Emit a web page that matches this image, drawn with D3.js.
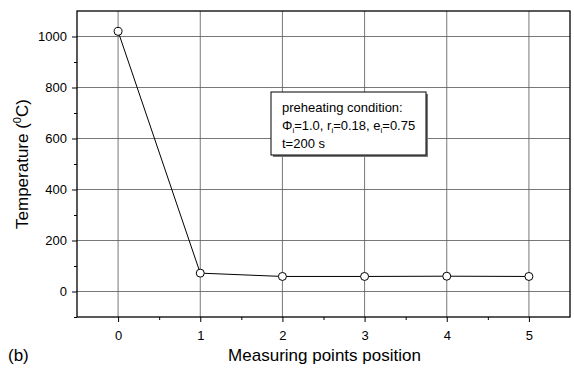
<!DOCTYPE html>
<html>
<head>
<meta charset="utf-8">
<script src="https://cdn.jsdelivr.net/npm/d3@7"></script>
<style>
  html, body { margin: 0; padding: 0; background: #fff; }
  svg { display: block; font-family: Arial, "Liberation Sans", sans-serif; }
</style>
</head>
<body>
<svg id="chart" width="574" height="370"></svg>
<script>
// Measured temperature at each measuring point
const positions = [0, 1, 2, 3, 4, 5];
const temperatures = [1020, 72, 59, 59, 60, 59];

const xMajorTicks = [0, 1, 2, 3, 4, 5];
const xMinorTicks = [0.5, 1.5, 2.5, 3.5, 4.5];
const yMajorTicks = [0, 200, 400, 600, 800, 1000];
const yMinorTicks = [-100, 100, 300, 500, 700, 900];

const svg = d3.select("#chart");
const plot = { left: 77, right: 570, top: 11, bottom: 317 };

const x = d3.scaleLinear().domain([-0.5, 5.5]).range([plot.left, plot.right]);
const y = d3.scaleLinear().domain([-100, 1100]).range([plot.bottom, plot.top]);

// grid lines
const grid = svg.append("g").attr("stroke", "#555").attr("stroke-width", 0.8);
grid.selectAll("line.vx").data(xMajorTicks).join("line")
  .attr("x1", d => x(d)).attr("x2", d => x(d))
  .attr("y1", plot.top).attr("y2", plot.bottom);
grid.selectAll("line.hy").data(yMajorTicks).join("line")
  .attr("x1", plot.left).attr("x2", plot.right)
  .attr("y1", d => y(d)).attr("y2", d => y(d));

// frame
svg.append("rect")
  .attr("x", plot.left).attr("y", plot.top)
  .attr("width", plot.right - plot.left).attr("height", plot.bottom - plot.top)
  .attr("fill", "none").attr("stroke", "#000").attr("stroke-width", 1.3);

// axes
const xAxis = d3.axisBottom(x).tickValues(xMajorTicks).tickSize(5).tickPadding(9)
  .tickFormat(d3.format("d"));
const gx = svg.append("g").attr("transform", `translate(0,${plot.bottom})`).call(xAxis);
const xMinor = d3.axisBottom(x).tickValues(xMinorTicks).tickSize(3).tickFormat("");
const gxm = svg.append("g").attr("transform", `translate(0,${plot.bottom})`).call(xMinor);

const yAxis = d3.axisLeft(y).tickValues(yMajorTicks).tickSize(5).tickPadding(5)
  .tickFormat(d3.format("d"));
const gy = svg.append("g").attr("transform", `translate(${plot.left},0)`).call(yAxis);
const yMinor = d3.axisLeft(y).tickValues(yMinorTicks).tickSize(3).tickFormat("");
const gym = svg.append("g").attr("transform", `translate(${plot.left},0)`).call(yMinor);

[gx, gxm, gy, gym].forEach(g => {
  g.select(".domain").remove();
  g.selectAll("line").attr("stroke", "#000").attr("stroke-width", 1);
  g.selectAll("text").attr("font-family", "Arial, 'Liberation Sans', sans-serif")
    .attr("font-size", 13).attr("fill", "#000");
});

// data line and markers
const line = d3.line().x((d, i) => x(positions[i])).y(d => y(d));
svg.append("path").datum(temperatures)
  .attr("d", line).attr("fill", "none").attr("stroke", "#000").attr("stroke-width", 1);
svg.selectAll("circle.pt").data(temperatures).join("circle")
  .attr("cx", (d, i) => x(positions[i])).attr("cy", d => y(d)).attr("r", 4)
  .attr("fill", "#fff").attr("stroke", "#000").attr("stroke-width", 1);

// annotation box
const box = { x: 271, y: 92, w: 155, h: 63 };
svg.append("rect").attr("x", box.x + 2).attr("y", box.y + 2)
  .attr("width", box.w).attr("height", box.h).attr("fill", "#777");
svg.append("rect").attr("x", box.x).attr("y", box.y)
  .attr("width", box.w).attr("height", box.h)
  .attr("fill", "#fff").attr("stroke", "#000").attr("stroke-width", 1);
const note = svg.append("text").attr("font-size", 13).attr("fill", "#000");
note.append("tspan").attr("x", 282).attr("y", 112).text("preheating condition:");
const l2 = note.append("tspan").attr("x", 282).attr("y", 130);
l2.append("tspan").text("\u03A6");
l2.append("tspan").attr("font-size", 8).attr("dy", 3).text("i");
l2.append("tspan").attr("dy", -3).text("=1.0, r");
l2.append("tspan").attr("font-size", 8).attr("dy", 3).text("i");
l2.append("tspan").attr("dy", -3).text("=0.18, e");
l2.append("tspan").attr("font-size", 8).attr("dy", 3).text("i");
l2.append("tspan").attr("dy", -3).text("=0.75");
note.append("tspan").attr("x", 282).attr("y", 148).text("t=200 s");

// axis titles
svg.append("text")
  .attr("x", (plot.left + plot.right) / 2 + 1).attr("y", 361)
  .attr("text-anchor", "middle").attr("font-size", 17)
  .text("Measuring points position");

const yt = svg.append("text")
  .attr("transform", "translate(28,164) rotate(-90)")
  .attr("text-anchor", "middle").attr("font-size", 17);
yt.append("tspan").text("Temperature (");
yt.append("tspan").attr("font-size", 11).attr("dy", -7).text("0");
yt.append("tspan").attr("dy", 7).text("C)");

svg.append("text").attr("x", 8).attr("y", 361).attr("font-size", 17).text("(b)");
</script>
</body>
</html>
